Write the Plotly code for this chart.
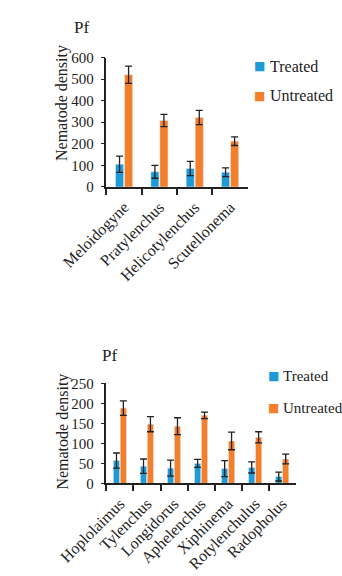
import plotly.graph_objects as go
from plotly.subplots import make_subplots

W, H = 342, 576

# Panel 1: root-knot / lesion group
genera_a = ["Meloidogyne", "Pratylenchus", "Helicotylenchus", "Scutellonema"]
treated_a = [105, 70, 85, 68]
treated_a_err = [38, 30, 33, 20]
untreated_a = [520, 308, 322, 212]
untreated_a_err = [40, 28, 33, 20]

# Panel 2: remaining genera
genera_b = ["Hoplolaimus", "Tylenchus", "Longidorus", "Aphelenchus",
            "Xiphinema", "Rotylenchulus", "Radopholus"]
treated_b = [57, 43, 38, 50, 37, 40, 17]
treated_b_err = [19, 18, 20, 10, 20, 14, 11]
untreated_b = [188, 148, 143, 170, 106, 115, 61]
untreated_b_err = [18, 19, 21, 8, 22, 14, 12]

BLUE = "#1E9AD6"
ORANGE = "#F47F2B"
FONT = "Liberation Serif"
INK = "#222222"


def px_x(x):
    return x / W


def px_y(y):
    return 1 - y / H


fig = make_subplots(rows=2, cols=1)

err_style = dict(type="data", color=INK, thickness=1.3, width=3.5)

for row, cats, t, te, u, ue in [
    (1, genera_a, treated_a, treated_a_err, untreated_a, untreated_a_err),
    (2, genera_b, treated_b, treated_b_err, untreated_b, untreated_b_err),
]:
    fig.add_trace(go.Bar(x=cats, y=t, name="Treated", marker_color=BLUE,
                         error_y=dict(array=te, **err_style), showlegend=False),
                  row=row, col=1)
    fig.add_trace(go.Bar(x=cats, y=u, name="Untreated", marker_color=ORANGE,
                         error_y=dict(array=ue, **err_style), showlegend=False),
                  row=row, col=1)

axis_common = dict(showline=True, linecolor=INK, linewidth=1.5, showgrid=False,
                   zeroline=False, ticks="outside", tickcolor=INK)

fig.update_xaxes(**axis_common, tickson="boundaries", ticklen=6, tickwidth=1.5,
                 tickangle=-45, ticklabelstandoff=3,
                 tickfont=dict(family=FONT, size=16, color=INK))
fig.update_yaxes(**axis_common, ticklen=4, tickwidth=1.2, ticklabelstandoff=4,
                 tickfont=dict(family=FONT, size=15, color=INK))

fig.update_layout(
    xaxis=dict(domain=[px_x(67), px_x(232)]),
    yaxis=dict(domain=[px_y(184), px_y(51)], range=[0, 600], dtick=100),
    xaxis2=dict(domain=[px_x(67), px_x(288)]),
    yaxis2=dict(domain=[px_y(489), px_y(386)], range=[0, 250], dtick=50),
    barmode="group", bargap=0.49, bargroupgap=0.1,
    width=W, height=H, margin=dict(l=0, r=0, t=0, b=0),
    plot_bgcolor="white", paper_bgcolor="white",
    font=dict(family=FONT, color=INK),
)

anns = []
# Panel titles
anns.append(dict(text="Pf", x=px_x(38), y=px_y(20)))
anns.append(dict(text="Pf", x=px_x(71), y=px_y(357)))
# Y-axis titles
for yc in (98, 436):
    anns.append(dict(text="Nematode density", x=px_x(16), y=px_y(yc),
                     textangle=-90, font=dict(size=16)))
# Legends
for (sx, tx, ys, fs) in [(246, 256, (60, 90), 16), (262, 271, (378, 411), 15)]:
    for label, color, yy in [("Treated", BLUE, ys[0]), ("Untreated", ORANGE, ys[1])]:
        anns.append(dict(text="■", x=px_x(sx), y=px_y(yy),
                         font=dict(size=12, color=color, family="DejaVu Sans")))
        anns.append(dict(text=label, x=px_x(tx), y=px_y(yy), xanchor="left",
                         font=dict(size=fs)))

for a in anns:
    a.setdefault("xanchor", "center")
    a.setdefault("yanchor", "middle")
    a.setdefault("font", dict(size=17))
    a["font"].setdefault("family", FONT)
    a["font"].setdefault("color", INK)
    fig.add_annotation(xref="paper", yref="paper", showarrow=False, **a)

fig.write_html("out.html")
